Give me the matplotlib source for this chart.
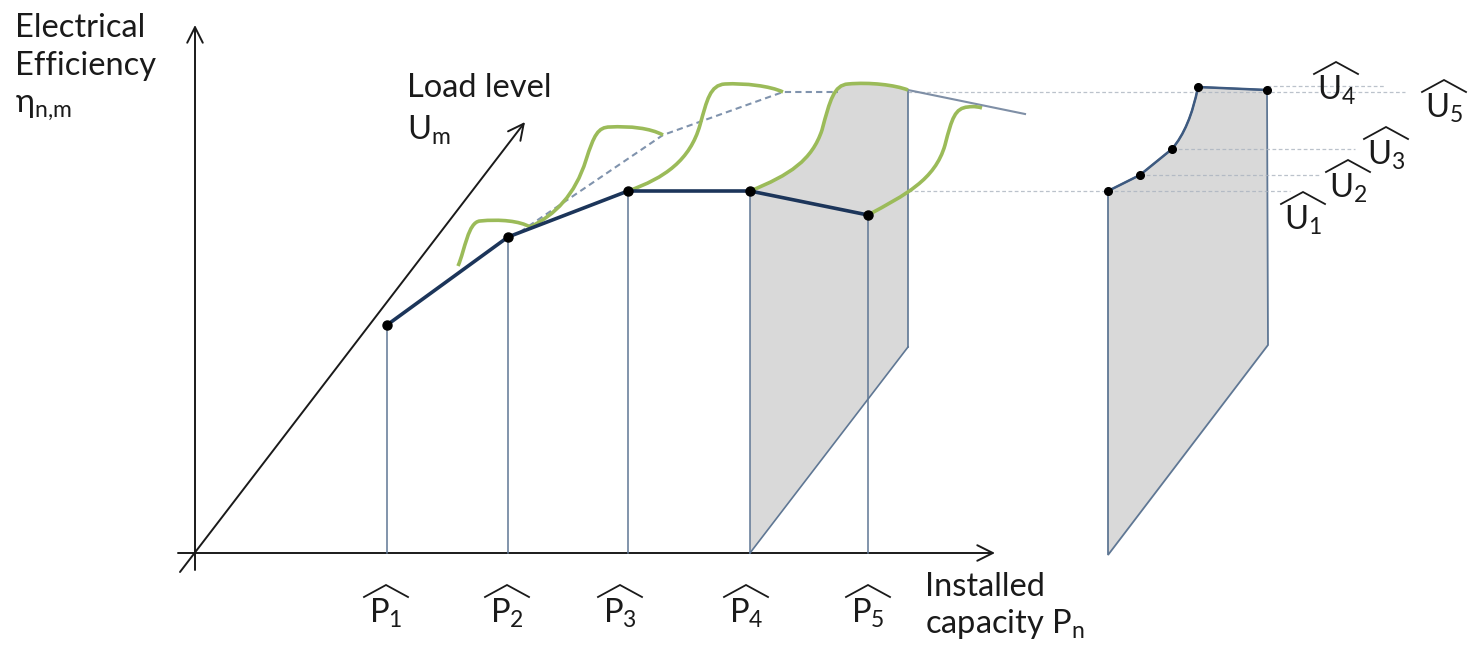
import matplotlib.pyplot as plt
from matplotlib.path import Path
from matplotlib.patches import PathPatch

plt.rcParams['font.family'] = ['Lato', 'DejaVu Sans']
plt.rcParams['mathtext.fontset'] = 'custom'
plt.rcParams['mathtext.rm'] = 'Lato'
plt.rcParams['mathtext.it'] = 'Lato'

# Efficiency envelope over installed capacity (drawing units, y grows downward)
cap_x = [387, 508, 628, 750, 868]
eff_y = [325, 237, 191, 191, 215]
cap_labels = [r'$\mathrm{P_1}$', r'$\mathrm{P_2}$', r'$\mathrm{P_3}$', r'$\mathrm{P_4}$', r'$\mathrm{P_5}$']
cap_label_x = [386, 507, 620, 746, 868]

# Part-load curves (cubic bezier control points) for each capacity
green_curves = [
    [(458, 266), (465, 250), (468, 222), (480, 221), (500, 219), (520, 221), (530, 227)],
    [(530, 227), (555, 215), (575, 195), (586, 160), (594, 135), (598, 127), (610, 127),
     (630, 126), (650, 128), (663, 135)],
    [(628, 191), (665, 178), (690, 160), (700, 125), (707, 100), (710, 85), (725, 84),
     (745, 83), (770, 86), (783, 92)],
    [(750, 191), (790, 175), (812, 160), (822, 130), (830, 100), (834, 85), (848, 84),
     (870, 82), (895, 85), (908, 90)],
    [(868, 215), (905, 195), (935, 180), (945, 145), (952, 118), (955, 108), (968, 107),
     (974, 106), (979, 107), (982, 108)],
]

# Full-load trend (dashed) and its continuation
dash_x = [520, 663, 783, 838]
dash_y = [232, 135, 92, 92]
tail_x = [908, 1025]
tail_y = [90, 114]

# Efficiency per load level at the chosen capacity
load_x = [1108, 1140, 1172, 1198, 1267]
load_y = [191, 175, 149, 87, 90]
load_labels = [r'$\mathrm{U_1}$', r'$\mathrm{U_2}$', r'$\mathrm{U_3}$', r'$\mathrm{U_4}$', r'$\mathrm{U_5}$']
load_label_x = [1303, 1348, 1386, 1336, 1444]
load_label_y = [230, 198, 165, 100, 118]

# Guide lines: level, start, end
guide_y = [92, 86, 149, 175, 191]
guide_x0 = [908, 1267, 1172, 1140, 908]
guide_x1 = [1405, 1385, 1355, 1320, 1290]

navy = '#1c355a'
green = '#9bbb59'
steel = '#5f7794'
shade = '#d9d9d9'
ink = '#1a1a1a'

fig = plt.figure(figsize=(14.7, 6.53), dpi=100)
ax = fig.add_axes([0, 0, 1, 1])
ax.set_xlim(0, 1470)
ax.set_ylim(653, 0)
ax.axis('off')

# Axes arrows
arrow = dict(arrowstyle='->', lw=1.4, color=ink, mutation_scale=28, shrinkA=0, shrinkB=0)
ax.annotate('', xy=(195, 25), xytext=(195, 570), arrowprops=arrow)
ax.annotate('', xy=(995, 553), xytext=(178, 553), arrowprops=arrow)
ax.annotate('', xy=(525, 122), xytext=(180, 572), arrowprops=arrow)

# Shaded slice behind P4
codes = [Path.MOVETO, Path.LINETO] + [Path.CURVE4] * 9 + [Path.LINETO, Path.CLOSEPOLY]
verts = [(750, 553)] + green_curves[3] + [(908, 347), (750, 553)]
ax.add_patch(PathPatch(Path(verts, codes), facecolor=shade, edgecolor='none', zorder=1))
ax.plot([908, 908], [90, 347], color=steel, lw=1.2, zorder=3)
ax.plot([750, 908], [553, 347], color=steel, lw=1.2, zorder=3)

# Right-hand slice: points joined straight, with a bend between U3 and U4
top_verts = [(load_x[0], load_y[0]), (load_x[1], load_y[1]), (load_x[2], load_y[2]),
             (1190, 128), (load_x[3], load_y[3]), (load_x[4], load_y[4])]
top_codes = [Path.MOVETO, Path.LINETO, Path.LINETO, Path.CURVE3, Path.CURVE3, Path.LINETO]
fill_verts = [(1108, 555)] + top_verts + [(1268, 345), (1108, 555)]
fill_codes = [Path.MOVETO] + [Path.LINETO] + top_codes[1:] + [Path.LINETO, Path.CLOSEPOLY]
ax.add_patch(PathPatch(Path(fill_verts, fill_codes), facecolor=shade, edgecolor=steel,
                       lw=1.3, zorder=1))
ax.add_patch(PathPatch(Path(top_verts, top_codes), facecolor='none', edgecolor='#3e5a80',
                       lw=1.8, zorder=5))
ax.plot(load_x, load_y, 'o', color='black', ms=5.5, zorder=6)

# Guide lines
for y, x0, x1 in zip(guide_y, guide_x0, guide_x1):
    ax.plot([x0, x1], [y, y], color='#aab3bf', lw=0.9, ls=(0, (3, 2)), alpha=0.8, zorder=2)

# Drop lines to the capacity axis
for x, y in zip(cap_x, eff_y):
    ax.plot([x, x], [y, 553], color=steel, lw=1.1, zorder=3)

# Dashed trend and tail
ax.plot(dash_x, dash_y, color='#8093ad', lw=1.5, ls=(0, (3, 2)), zorder=3)
ax.plot(tail_x, tail_y, color='#7f8fa6', lw=1.5, zorder=3)

# Green part-load curves
for pts in green_curves:
    c = [Path.MOVETO] + [Path.CURVE4] * (len(pts) - 1)
    ax.add_patch(PathPatch(Path(pts, c), facecolor='none', edgecolor=green, lw=2.6, zorder=4))

# Envelope
ax.plot(cap_x, eff_y, color=navy, lw=2.6, zorder=5)
ax.plot(cap_x, eff_y, 'o', color='black', ms=6.5, zorder=6)

# Text
fs = 23.5
ax.text(15, 37, 'Electrical', fontsize=fs, color=ink)
ax.text(15, 75, 'Efficiency', fontsize=fs, color=ink)
ax.text(15, 112, r'$\mathrm{\eta_{n{,}m}}$', fontsize=fs, color=ink)
ax.text(407, 97, 'Load level', fontsize=fs, color=ink)
ax.text(407, 140, r'$\mathrm{U_m}$', fontsize=fs, color=ink)
ax.text(925, 596, 'Installed', fontsize=fs, color=ink)
ax.text(925, 633, r'capacity $\mathrm{P_n}$', fontsize=fs, color=ink)


def hatted(x, base, label):
    # label with a wide chevron above it
    ax.text(x, base, label, fontsize=fs, color=ink, ha='center', va='baseline')
    top = base - 38
    ax.plot([x - 22, x, x + 22], [top + 12, top, top + 12], color=ink, lw=1.3,
            solid_joinstyle='miter')


for x, lab in zip(cap_label_x, cap_labels):
    hatted(x, 623, lab)
for x, y, lab in zip(load_label_x, load_label_y, load_labels):
    hatted(x, y, lab)

fig.savefig('out.png', dpi=100)
